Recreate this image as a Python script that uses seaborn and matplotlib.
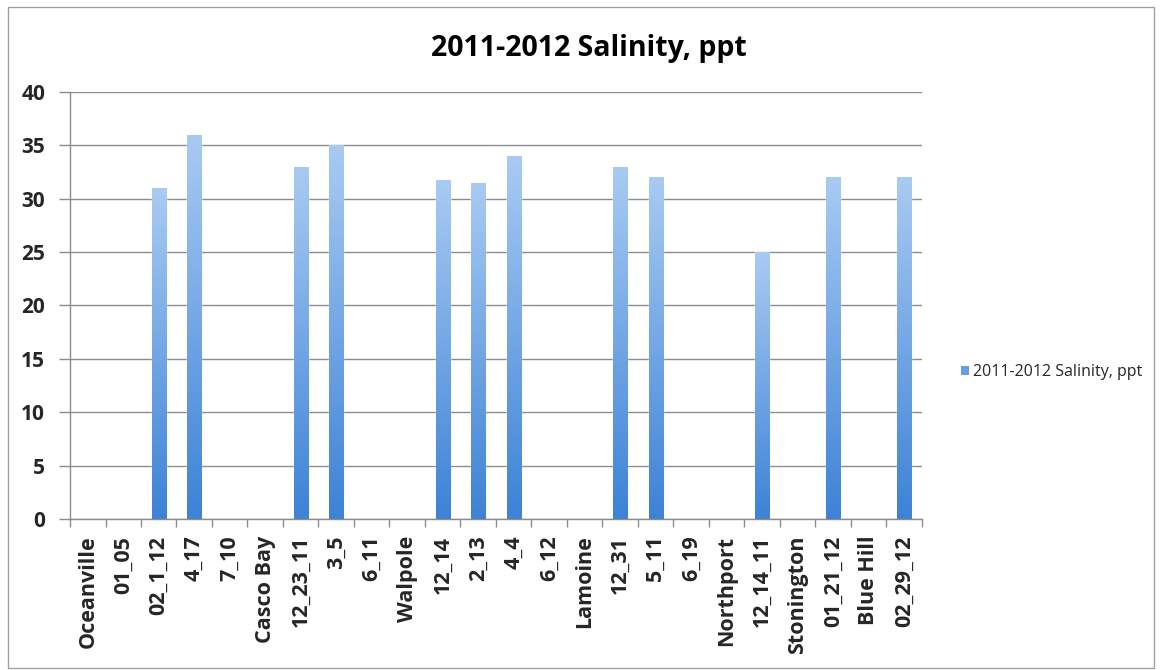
import numpy as np
import pandas as pd
import matplotlib
matplotlib.use("Agg")
import matplotlib.pyplot as plt
from matplotlib.patches import Patch, Rectangle
from matplotlib.colors import LinearSegmentedColormap
import seaborn as sns

sites = ["Oceanville", "01_05", "02_1_12", "4_17", "7_10", "Casco Bay", "12_23_11",
         "3_5", "6_11", "Walpole", "12_14", "2_13", "4_4", "6_12", "Lamoine", "12_31",
         "5_11", "6_19", "Northport", "12_14_11", "Stonington", "01_21_12", "Blue Hill",
         "02_29_12"]
salinity = [np.nan, np.nan, 31, 36, np.nan, np.nan, 33, 35, np.nan, np.nan, 31.8, 31.5,
            34, np.nan, np.nan, 33, 32, np.nan, np.nan, 25, np.nan, 32, np.nan, 32]
series_name = "2011-2012 Salinity, ppt"
y_ticks = [0, 5, 10, 15, 20, 25, 30, 35, 40]

df = pd.DataFrame({"site": sites, "salinity": salinity})

sns.set_theme(style="white")
plt.rcParams["font.family"] = ["Open Sans", "DejaVu Sans"]

fig = plt.figure(figsize=(11.61, 6.70), dpi=100)
ax = fig.add_axes([0.0603, 0.2254, 0.7337, 0.6373])

sns.barplot(data=df, x="site", y="salinity", order=sites, color="#5f98e0",
            width=0.4, ax=ax, errorbar=None, saturation=1)

# vertical gradient fill inside each bar
grad_cmap = LinearSegmentedColormap.from_list("bar_grad", ["#3d82d6", "#a9cbf3"])
grad = np.linspace(0, 1, 256).reshape(-1, 1)
for p in list(ax.patches):
    x0, y0 = p.get_x(), p.get_y()
    w, h = p.get_width(), p.get_height()
    if not np.isfinite(h) or h == 0:
        continue
    im = ax.imshow(grad, cmap=grad_cmap, origin="lower", aspect="auto",
                   extent=[x0, x0 + w, y0, y0 + h], zorder=p.get_zorder() + 0.1)
    im.set_clip_path(p)

ax.set_xlim(-0.5, len(sites) - 0.5)
ax.set_ylim(0, 40)
ax.set_yticks(y_ticks)
ax.set_yticklabels([str(t) for t in y_ticks], fontsize=15, fontweight="bold")
ax.yaxis.grid(True, color="#8c8c8c", linewidth=1)
ax.set_axisbelow(True)

ax.set_xticks(range(len(sites)))
ax.set_xticklabels(sites, rotation=90, fontsize=15.5, fontweight="bold")
ax.set_xticks(np.arange(-0.5, len(sites), 1), minor=True)
ax.tick_params(axis="x", which="major", length=0, pad=12)
ax.tick_params(axis="x", which="minor", length=6, color="#8c8c8c", width=1, bottom=True)
ax.tick_params(axis="y", which="major", length=8, color="#8c8c8c", width=1, left=True, pad=10)

for side in ["top", "right"]:
    ax.spines[side].set_visible(False)
for side in ["left", "bottom"]:
    ax.spines[side].set_color("#8c8c8c")
    ax.spines[side].set_linewidth(1)

ax.set_xlabel("")
ax.set_ylabel("")
fig.text(0.507, 0.928, series_name, ha="center", va="center", fontsize=20.5,
         fontweight="bold", color="black")

handle = Patch(facecolor="#6a9de0", edgecolor="none")
fig.legend([handle], [series_name], loc="center left", bbox_to_anchor=(0.815, 0.445),
           frameon=False, fontsize=11.5, handlelength=0.5, handleheight=0.5,
           handletextpad=0.25)

# thin frame around the whole figure
fig.patches.append(Rectangle((0.007, 0.003), 0.987, 0.987, transform=fig.transFigure,
                             fill=False, edgecolor="#a0a0a0", linewidth=1))

fig.savefig("out.png", dpi=100)
